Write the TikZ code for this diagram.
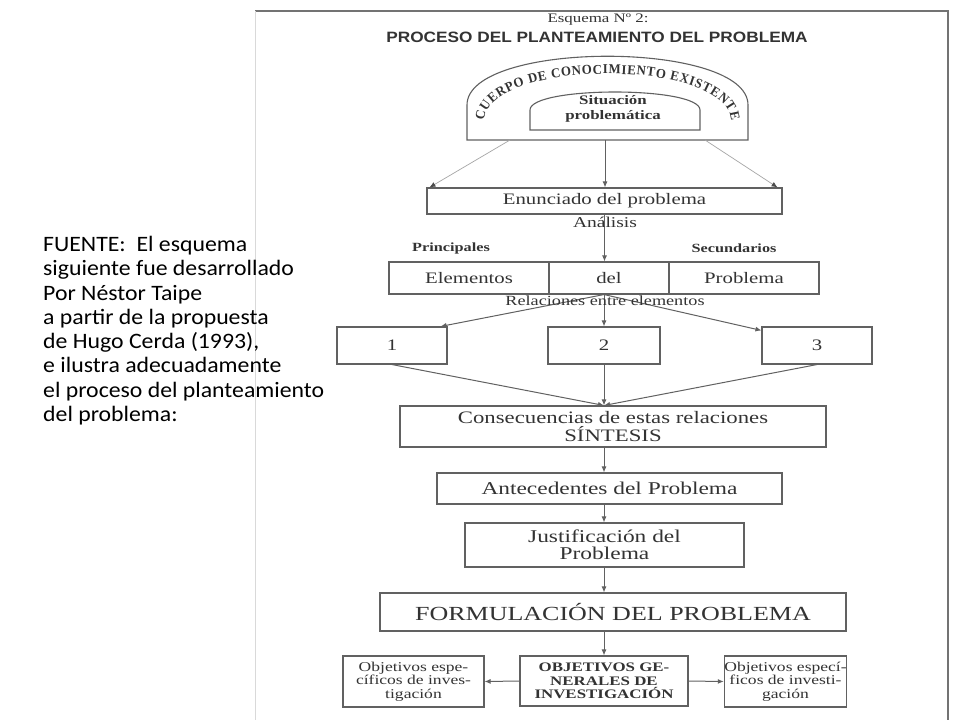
\documentclass[tikz,border=0pt]{standalone}
\usepackage{fontspec}
\setmainfont{Liberation Serif}[FakeStretch=1.3]
\newfontfamily\titlefont{Liberation Sans}[FakeStretch=1.15]
\newfontfamily\archfont{Liberation Serif}[FakeStretch=0.95]
\newfontfamily\notefont{Carlito}[FakeStretch=1.08]
\usetikzlibrary{arrows.meta,calc,decorations.text}
\newcommand\setfs[1]{\fontsize{#1}{#1}\selectfont}
\definecolor{linec}{gray}{0.38}
\definecolor{txt}{gray}{0.2}
\tikzset{
  box/.style={draw=linec, line width=1.1pt, text=txt, inner sep=0pt, align=center},
  lbl/.style={text=txt, inner sep=0pt, align=center},
  arr/.style={draw=linec, line width=1pt, -{Latex[length=6pt,width=5pt]}},
  lightarr/.style={draw=black!35, line width=0.7pt, -{Latex[length=6pt,width=5pt,color=black!70]}},
  archshape/.style={draw=linec, line width=1.1pt},
}
\begin{document}
\begin{tikzpicture}[x=1pt,y=-1pt]
\useasboundingbox (0,0) rectangle (960,720);
\fill[white] (0,0) rectangle (960,720);
% page frame of the scan
\draw[black!55, line width=1.5pt] (255,11) -- (948,11) -- (948,720);
\draw[black!15, line width=1pt] (255,11) -- (255,720);

% side note
\node[anchor=north west, align=left, inner sep=0pt, text=black,
      font=\notefont\fontsize{22}{24.3}\selectfont] (note) at (43,236)
  {FUENTE:~ El esquema\\siguiente fue desarrollado\\Por Néstor Taipe\\a partir de la propuesta\\de Hugo Cerda (1993),\\e ilustra adecuadamente\\el proceso del planteamiento\\del problema:};

% titles
\node[lbl, font=\setfs{13}] (esq) at (598,20) {Esquema Nº 2:};
\node[lbl, font=\titlefont\bfseries\setfs{15}] (title) at (597,37) {PROCESO DEL PLANTEAMIENTO DEL PROBLEMA};

% arch
\draw[archshape] (467,140) -- (467,105) .. controls (467,40) and (748,40) .. (748,105) -- (748,140) -- cycle;
\draw[archshape] (530,130) -- (530,110) .. controls (530,86) and (700,86) .. (700,110) -- (700,130) -- cycle;
\path[decoration={text along path, text={|\color{txt}\archfont\bfseries\setfs{13.5}|CUERPO DE CONOCIMIENTO EXISTENTE}, text align={fit to path}}, decorate]
  (484,121) .. controls (487,58) and (728,58) .. (731,121);
\node[lbl, font=\bfseries\fontsize{13}{15}\selectfont] (sit) at (613,109) {Situación\\problemática};
\coordinate (archb) at (605,140);
\coordinate (archl) at (510,140);
\coordinate (archr) at (705,140);

% boxes
\node[box, minimum width=355, minimum height=26, font=\setfs{16}] (enun) at (604.5,201) {Enunciado del problema};
\node[box, minimum width=160, minimum height=32, font=\setfs{16}] (e1) at (469,278) {Elementos};
\node[box, minimum width=120, minimum height=32, font=\setfs{16}] (e2) at (609,278) {del};
\node[box, minimum width=150, minimum height=32, font=\setfs{16}] (e3) at (744,278) {Problema};
\node[box, minimum width=110, minimum height=37, font=\setfs{16}] (b1) at (392,345.5) {1};
\node[box, minimum width=112, minimum height=37, font=\setfs{16}] (b2) at (604,345.5) {2};
\node[box, minimum width=110, minimum height=37, font=\setfs{16}] (b3) at (817,345.5) {3};
\node[box, minimum width=426, minimum height=41, font=\fontsize{17.5}{17.5}\selectfont] (cons) at (613,426.5) {Consecuencias de estas relaciones\\SÍNTESIS};
\node[box, minimum width=345, minimum height=31, font=\setfs{18}] (ante) at (609.5,488.5) {Antecedentes del Problema};
\node[box, minimum width=279, minimum height=44, font=\fontsize{18}{17}\selectfont] (just) at (604.5,545) {Justificación del\\Problema};
\node[box, minimum width=466, minimum height=38, font=\setfs{20}] (form) at (613,612) {FORMULACIÓN DEL PROBLEMA};
\node[box, minimum width=168, minimum height=50, font=\bfseries\fontsize{13}{13.5}\selectfont] (og) at (604,681) {OBJETIVOS GE-\\NERALES DE\\INVESTIGACIÓN};
\node[box, minimum width=141, minimum height=51, font=\fontsize{13.5}{13.5}\selectfont] (oel) at (413.5,681.5) {Objetivos espe-\\cíficos de inves-\\tigación};
\node[box, minimum width=121, minimum height=51, font=\fontsize{13.5}{13.5}\selectfont] (oer) at (785.5,681.5) {Objetivos especí-\\ficos de investi-\\gación};

\coordinate (fan) at (b2 |- e2.south);

% connectors
\draw[arr] (archb) -- (archb |- enun.north);
\draw[lightarr] (archl) -- ([xshift=3pt]enun.north west);
\draw[lightarr] (archr) -- ([xshift=-5pt]enun.north east);
\draw[arr] (enun.south) -- (enun.south |- e2.north);
\draw[arr] (fan) -- ([xshift=-7pt]b1.north east);
\draw[arr] (fan) -- (b2.north);
\draw[arr] (fan) -- ([yshift=-4pt]b3.north west);
\draw[arr] (b1.south) -- (b2 |- cons.north);
\draw[arr] (b2.south) -- (b2 |- cons.north);
\draw[arr] (b3.south) -- (b2 |- cons.north);
\draw[arr] (b2 |- cons.south) -- (b2 |- ante.north);
\draw[arr] (b2 |- ante.south) -- (b2 |- just.north);
\draw[arr] (b2 |- just.south) -- (b2 |- form.north);
\draw[arr] (b2 |- form.south) -- (og.north);
\draw[arr] (og.west) -- (oel.east);
\draw[arr] (og.east) -- (oer.west);

% labels over the connectors
\node[lbl, font=\setfs{15}] (anal) at (605,222) {Análisis};
\node[lbl, font=\bfseries\setfs{12.5}] (princ) at (451,248) {Principales};
\node[lbl, font=\bfseries\setfs{12.5}] (secund) at (734,248) {Secundarios};
\node[lbl, font=\setfs{14}] (rel) at (605,301) {Relaciones entre elementos};
\end{tikzpicture}
\end{document}
